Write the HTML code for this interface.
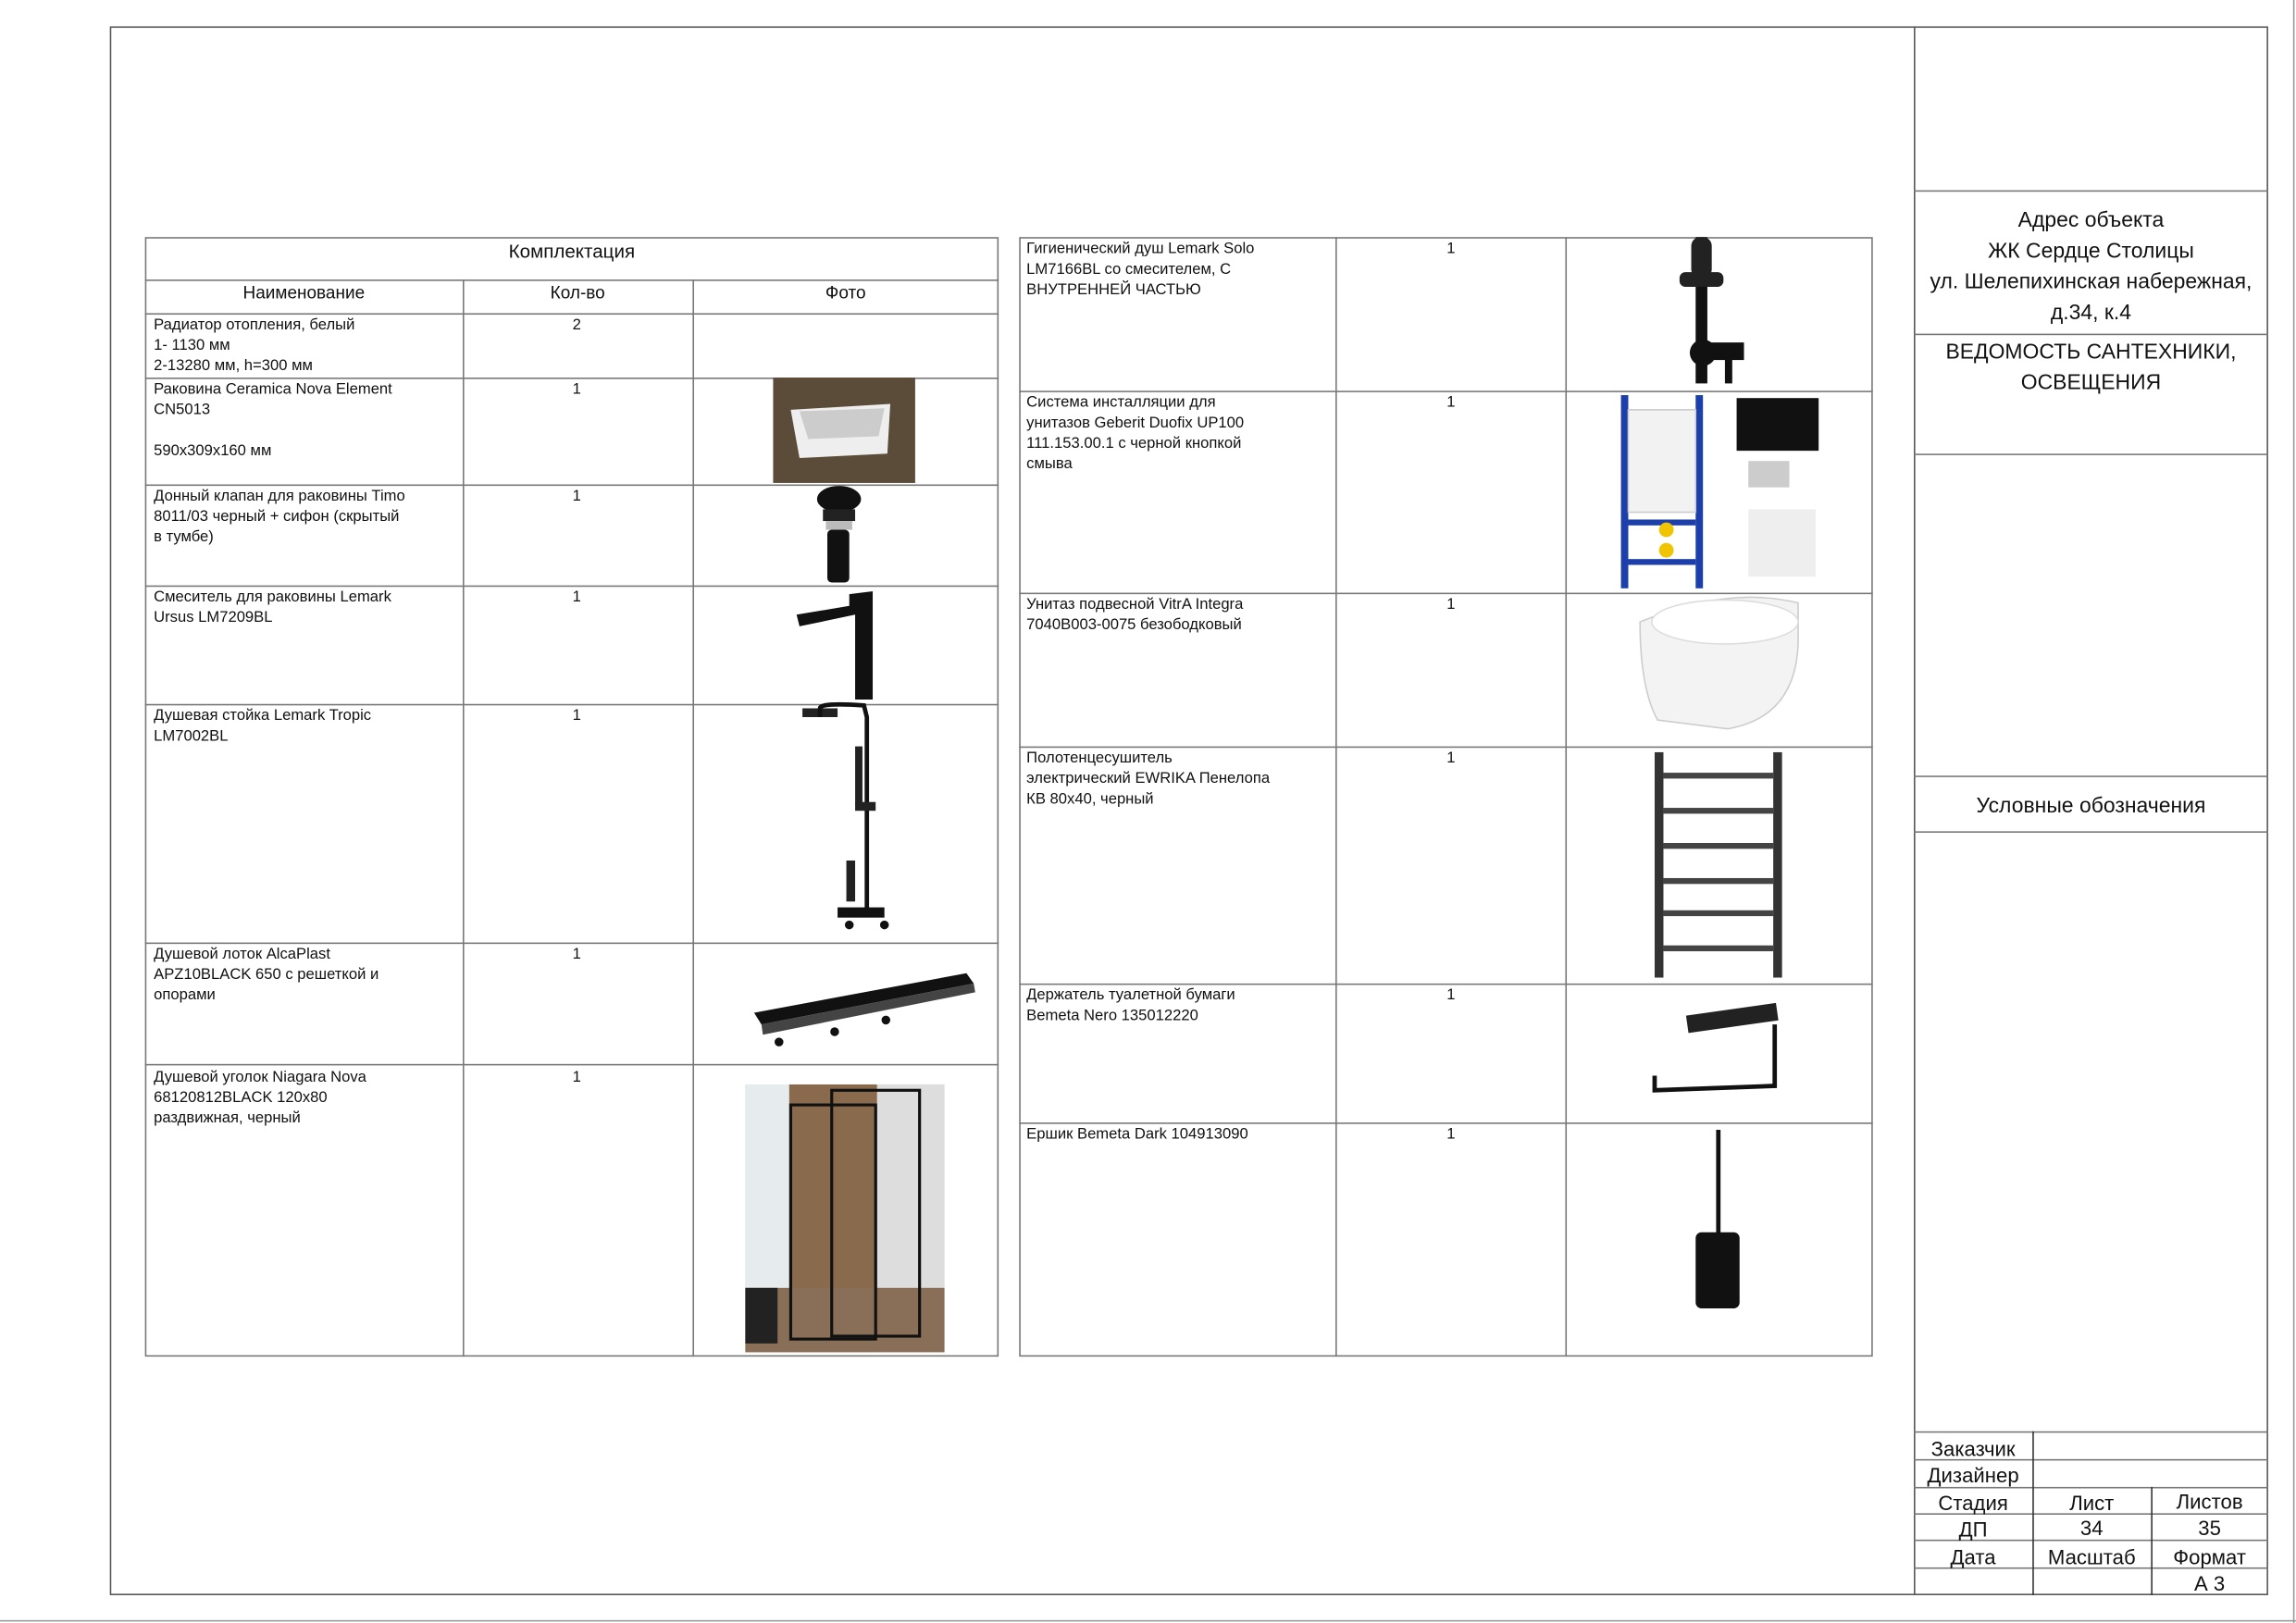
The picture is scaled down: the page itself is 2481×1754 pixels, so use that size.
<!DOCTYPE html>
<html><head><meta charset="utf-8">
<style>
html,body{margin:0;padding:0;background:#fff;}
body{width:2481px;height:1754px;overflow:hidden;position:relative;}
#s{position:absolute;left:0;top:0;width:1568px;height:1109px;transform:scale(1.58227,1.58161);transform-origin:0 0;font-family:"Liberation Sans",sans-serif;color:#111;}
.h{position:absolute;height:0;border-top:1px solid #777;}
.v{position:absolute;width:0;border-left:1px solid #777;}
.t{position:absolute;font-size:10.5px;line-height:14px;white-space:nowrap;}
.c{position:absolute;text-align:center;}
.tb{font-size:14px;line-height:18px;}
</style></head><body><div id="s">
<div class="h" style="left:0;top:1107px;width:1568px;border-color:#999"></div>
<div class="v" style="left:1566px;top:0;height:1109px;border-color:#999"></div>
<div style="position:absolute;left:75px;top:18px;width:1474px;height:1072px;border:1px solid #555;box-sizing:border-box;"></div>
<div class="v" style="left:1307px;top:18px;height:1072px;border-color:#555"></div>
<div class="h" style="left:1307px;top:130px;width:242px"></div>
<div class="h" style="left:1307px;top:228px;width:242px"></div>
<div class="h" style="left:1307px;top:310px;width:242px"></div>
<div class="h" style="left:1307px;top:530px;width:242px"></div>
<div class="h" style="left:1307px;top:568px;width:242px"></div>
<div class="c tb" style="left:1307px;top:141px;width:242px;line-height:21px;font-size:14.5px">Адрес объекта<br>ЖК Сердце Столицы<br>ул. Шелепихинская набережная,<br>д.34, к.4</div>
<div class="c tb" style="left:1307px;top:231px;width:242px;line-height:21px;font-size:14.5px">ВЕДОМОСТЬ САНТЕХНИКИ,<br>ОСВЕЩЕНИЯ</div>
<div class="c tb" style="left:1307px;top:542px;width:242px;font-size:14.5px">Условные обозначения</div>
<div class="h" style="left:1307px;top:978px;width:242px"></div>
<div class="h" style="left:1307px;top:997px;width:242px"></div>
<div class="h" style="left:1307px;top:1016px;width:242px"></div>
<div class="h" style="left:1307px;top:1034px;width:242px"></div>
<div class="h" style="left:1307px;top:1052px;width:242px"></div>
<div class="h" style="left:1307px;top:1071px;width:242px"></div>
<div class="v" style="left:1388px;top:978px;height:112px;border-color:#333"></div>
<div class="v" style="left:1469px;top:1016px;height:74px;border-color:#333"></div>
<div class="c tb" style="left:1307px;top:981px;width:81px">Заказчик</div>
<div class="c tb" style="left:1307px;top:999px;width:81px">Дизайнер</div>
<div class="c tb" style="left:1307px;top:1018px;width:81px">Стадия</div>
<div class="c tb" style="left:1388px;top:1018px;width:81px">Лист</div>
<div class="c tb" style="left:1469px;top:1017px;width:80px">Листов</div>
<div class="c tb" style="left:1307px;top:1036px;width:81px">ДП</div>
<div class="c tb" style="left:1388px;top:1035px;width:81px">34</div>
<div class="c tb" style="left:1469px;top:1035px;width:80px">35</div>
<div class="c tb" style="left:1307px;top:1055px;width:81px">Дата</div>
<div class="c tb" style="left:1388px;top:1055px;width:81px">Масштаб</div>
<div class="c tb" style="left:1469px;top:1055px;width:80px">Формат</div>
<div class="c tb" style="left:1469px;top:1073px;width:80px">А 3</div>

<div style="position:absolute;left:99px;top:162px;width:583px;height:765px;border:1px solid #777;box-sizing:border-box"></div>
<div class="h" style="left:99px;top:191px;width:583px"></div>
<div class="h" style="left:99px;top:214px;width:583px"></div>
<div class="h" style="left:99px;top:258px;width:583px"></div>
<div class="h" style="left:99px;top:331px;width:583px"></div>
<div class="h" style="left:99px;top:400px;width:583px"></div>
<div class="h" style="left:99px;top:481px;width:583px"></div>
<div class="h" style="left:99px;top:644px;width:583px"></div>
<div class="h" style="left:99px;top:727px;width:583px"></div>
<div class="v" style="left:316px;top:191px;height:736px"></div>
<div class="v" style="left:473px;top:191px;height:736px"></div>
<div class="c" style="left:99px;top:164px;width:583px;font-size:13px">Комплектация</div>
<div class="c" style="left:99px;top:193px;width:217px;font-size:12px">Наименование</div>
<div class="c" style="left:316px;top:193px;width:157px;font-size:12px">Кол-во</div>
<div class="c" style="left:473px;top:193px;width:209px;font-size:12px">Фото</div>
<div class="t" style="left:105px;top:215px">Радиатор отопления, белый<br>1- 1130 мм<br>2-13280 мм, h=300 мм</div>
<div class="t" style="left:105px;top:259px">Раковина Ceramica Nova Element<br>CN5013<br><br>590x309x160 мм</div>
<div class="t" style="left:105px;top:332px">Донный клапан для раковины Timo<br>8011/03 черный + сифон (скрытый<br>в тумбе)</div>
<div class="t" style="left:105px;top:401px">Смеситель для раковины Lemark<br>Ursus LM7209BL</div>
<div class="t" style="left:105px;top:482px">Душевая стойка Lemark Tropic<br>LM7002BL</div>
<div class="t" style="left:105px;top:645px">Душевой лоток AlcaPlast<br>APZ10BLACK 650 с решеткой и<br>опорами</div>
<div class="t" style="left:105px;top:729px">Душевой уголок Niagara Nova<br>68120812BLACK 120x80<br>раздвижная, черный</div>
<div class="t" style="left:391px;top:215px">2</div>
<div class="t" style="left:391px;top:259px">1</div>
<div class="t" style="left:391px;top:332px">1</div>
<div class="t" style="left:391px;top:401px">1</div>
<div class="t" style="left:391px;top:482px">1</div>
<div class="t" style="left:391px;top:645px">1</div>
<div class="t" style="left:391px;top:729px">1</div>

<svg style="position:absolute;left:0;top:0" width="1568" height="1109">
<rect x="528" y="258" width="97" height="72" fill="#5a4c38"/>
<polygon points="540,280 608,276 606,310 546,313" fill="#eee"/>
<polygon points="546,281 604,279 600,298 552,300" fill="#ccc"/>
<ellipse cx="573" cy="341" rx="15" ry="9" fill="#111"/>
<rect x="562" y="348" width="22" height="8" fill="#222"/>
<rect x="564" y="356" width="18" height="6" fill="#bbb"/>
<rect x="565" y="362" width="15" height="36" rx="3" fill="#111"/>
<polygon points="580,406 596,404 596,478 584,478 584,420 546,428 544,420 580,414" fill="#111"/>
<rect x="548" y="484" width="24" height="6" fill="#222"/>
<path d="M560 490 L560 484 Q560 480 590 482 L592 490 L592 625" stroke="#111" stroke-width="3" fill="none"/>
<rect x="584" y="548" width="14" height="6" fill="#222"/>
<rect x="584" y="510" width="5" height="40" fill="#222"/>
<rect x="578" y="588" width="6" height="28" fill="#222"/>
<rect x="572" y="620" width="32" height="7" fill="#111"/>
<circle cx="580" cy="632" r="3" fill="#111"/><circle cx="604" cy="632" r="3" fill="#111"/>
<polygon points="515,692 660,665 665,672 520,700" fill="#111"/>
<polygon points="520,700 665,672 666,678 521,707" fill="#444"/>
<circle cx="532" cy="712" r="3" fill="#111"/><circle cx="570" cy="705" r="3" fill="#111"/><circle cx="605" cy="697" r="3" fill="#111"/>
<rect x="509" y="741" width="136" height="183" fill="#c8c4bc"/>
<rect x="509" y="741" width="30" height="140" fill="#e6ecee"/>
<rect x="539" y="741" width="60" height="150" fill="#8a6a4c"/>
<rect x="599" y="741" width="46" height="183" fill="#ddd"/>
<rect x="509" y="880" width="136" height="44" fill="#8a6f58"/>
<rect x="540" y="755" width="58" height="160" fill="none" stroke="#111" stroke-width="2"/>
<rect x="568" y="745" width="60" height="168" fill="none" stroke="#111" stroke-width="2"/>
<rect x="509" y="880" width="22" height="38" fill="#222"/>
</svg>

<div style="position:absolute;left:696px;top:162px;width:583px;height:765px;border:1px solid #777;box-sizing:border-box"></div>
<div class="h" style="left:696px;top:267px;width:583px"></div>
<div class="h" style="left:696px;top:405px;width:583px"></div>
<div class="h" style="left:696px;top:510px;width:583px"></div>
<div class="h" style="left:696px;top:672px;width:583px"></div>
<div class="h" style="left:696px;top:767px;width:583px"></div>
<div class="v" style="left:912px;top:162px;height:765px"></div>
<div class="v" style="left:1069px;top:162px;height:765px"></div>
<div class="t" style="left:701px;top:163px">Гигиенический душ Lemark Solo<br>LM7166BL со смесителем, С<br>ВНУТРЕННЕЙ ЧАСТЬЮ</div>
<div class="t" style="left:701px;top:268px">Система инсталляции для<br>унитазов Geberit Duofix UP100<br>111.153.00.1 с черной кнопкой<br>смыва</div>
<div class="t" style="left:701px;top:406px">Унитаз подвесной VitrA Integra<br>7040B003-0075 безободковый</div>
<div class="t" style="left:701px;top:511px">Полотенцесушитель<br>электрический EWRIKA Пенелопа<br>КВ 80х40, черный</div>
<div class="t" style="left:701px;top:673px">Держатель туалетной бумаги<br>Bemeta Nero 135012220</div>
<div class="t" style="left:701px;top:768px">Ершик Bemeta Dark 104913090</div>
<div class="t" style="left:988px;top:163px">1</div>
<div class="t" style="left:988px;top:268px">1</div>
<div class="t" style="left:988px;top:406px">1</div>
<div class="t" style="left:988px;top:511px">1</div>
<div class="t" style="left:988px;top:673px">1</div>
<div class="t" style="left:988px;top:768px">1</div>

<svg style="position:absolute;left:0;top:0" width="1568" height="1109">
<rect x="1158" y="162" width="8" height="100" fill="#111"/>
<rect x="1155" y="162" width="14" height="28" rx="6" fill="#222"/>
<rect x="1147" y="186" width="30" height="10" rx="4" fill="#222"/>
<circle cx="1163" cy="241" r="9" fill="#111"/>
<rect x="1163" y="234" width="28" height="12" fill="#111"/>
<rect x="1178" y="240" width="5" height="22" fill="#111"/>
<rect x="1107" y="270" width="5" height="132" fill="#1c3faa"/>
<rect x="1158" y="270" width="5" height="132" fill="#1c3faa"/>
<rect x="1112" y="280" width="46" height="70" fill="#f2f2f2" stroke="#ccc"/>
<rect x="1112" y="355" width="46" height="4" fill="#1c3faa"/>
<rect x="1112" y="382" width="46" height="4" fill="#1c3faa"/>
<circle cx="1138" cy="362" r="5" fill="#f0c400"/>
<circle cx="1138" cy="376" r="5" fill="#f0c400"/>
<rect x="1186" y="272" width="56" height="36" fill="#111"/>
<rect x="1194" y="315" width="28" height="18" fill="#999" opacity=".5"/>
<rect x="1194" y="348" width="46" height="46" fill="#eee"/>
<path d="M1120 425 Q1180 400 1228 412 L1228 440 Q1226 490 1180 498 L1132 492 Q1120 470 1120 425 Z" fill="#f3f3f3" stroke="#ccc"/>
<ellipse cx="1178" cy="425" rx="50" ry="15" fill="#fff" stroke="#ddd"/>
<rect x="1130" y="514" width="6" height="154" fill="#333"/>
<rect x="1211" y="514" width="6" height="154" fill="#333"/>
<g fill="#444">
<rect x="1136" y="528" width="75" height="4"/><rect x="1136" y="552" width="75" height="4"/><rect x="1136" y="576" width="75" height="4"/>
<rect x="1136" y="600" width="75" height="4"/><rect x="1136" y="622" width="75" height="4"/><rect x="1136" y="646" width="75" height="4"/>
</g>
<rect x="1152" y="690" width="62" height="12" fill="#222" transform="rotate(-8 1180 696)"/>
<path d="M1212 700 L1212 742 L1130 745 L1130 735" stroke="#111" stroke-width="3" fill="none"/>
<rect x="1172" y="772" width="3" height="72" fill="#111"/>
<rect x="1158" y="842" width="30" height="52" rx="4" fill="#111"/>
</svg>
</div></body></html>
